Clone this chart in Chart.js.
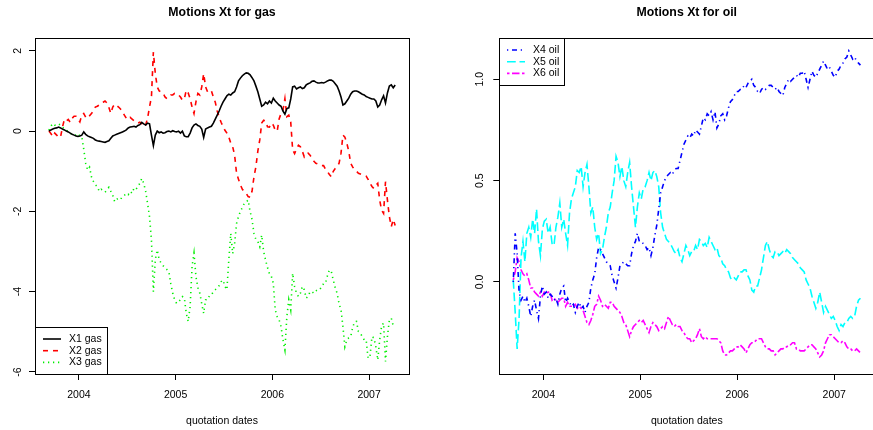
<!DOCTYPE html>
<html><head><meta charset="utf-8">
<script src="https://cdn.jsdelivr.net/npm/chart.js@4/dist/chart.umd.min.js"></script>
<style>
html,body{margin:0;padding:0;background:#fff;overflow:hidden}
#wrap{position:relative;width:873px;height:430px;overflow:hidden;background:#fff}
#c1{position:absolute;left:0;top:0}
#c2{position:absolute;left:436px;top:0}
</style></head><body>
<div id="wrap"><canvas id="c1" width="436" height="430"></canvas><canvas id="c2" width="445" height="430"></canvas></div>
<script>
// ---- data: quotation dates (decimal years) ----
const dates = [
2003.69,2003.71,2003.73,2003.75,2003.77,2003.79,2003.81,2003.83,2003.85,2003.87,2003.89,2003.91,2003.93,2003.95,2003.97,2003.99,
2004.01,2004.03,2004.05,2004.07,2004.09,2004.11,2004.13,2004.15,2004.17,2004.19,
2004.21,2004.23,2004.25,2004.27,2004.29,2004.31,2004.33,2004.35,2004.37,2004.39,
2004.41,2004.43,2004.45,2004.47,2004.49,2004.51,2004.53,2004.55,2004.57,2004.59,
2004.61,2004.63,2004.65,2004.67,2004.69,2004.71,2004.73,2004.75,2004.77,2004.79,
2004.81,2004.83,2004.85,2004.87,2004.89,2004.91,2004.93,2004.95,2004.97,2004.99,
2005.01,2005.03,2005.05,2005.07,2005.09,2005.11,2005.13,2005.15,2005.17,2005.19,
2005.21,2005.23,2005.25,2005.27,2005.29,2005.31,2005.33,2005.35,2005.37,2005.39,
2005.41,2005.43,2005.45,2005.47,2005.49,2005.51,2005.53,2005.55,2005.57,2005.59,
2005.61,2005.63,2005.65,2005.67,2005.69,2005.71,2005.73,2005.75,2005.77,2005.79,
2005.81,2005.83,2005.85,2005.87,2005.89,2005.91,2005.93,2005.95,2005.97,2005.99,
2006.01,2006.03,2006.05,2006.07,2006.09,2006.11,2006.13,2006.15,2006.17,2006.19,
2006.21,2006.23,2006.25,2006.27,2006.29,2006.31,2006.33,2006.35,2006.37,2006.39,
2006.41,2006.43,2006.45,2006.47,2006.49,2006.51,2006.53,2006.55,2006.57,2006.59,
2006.61,2006.63,2006.65,2006.67,2006.69,2006.71,2006.73,2006.75,2006.77,2006.79,
2006.81,2006.83,2006.85,2006.87,2006.89,2006.91,2006.93,2006.95,2006.97,2006.99,
2007.01,2007.03,2007.05,2007.07,2007.09,2007.11,2007.13,2007.15,2007.17,2007.19,2007.21,2007.23,2007.25,2007.27];

const x1Gas = [
0.0,0.03,0.05,0.07,0.08,0.1,0.08,0.05,0.03,0.0,-0.02,-0.05,-0.08,-0.1,-0.12,-0.13,
-0.12,-0.1,-0.02,-0.08,-0.12,-0.14,-0.16,-0.18,-0.22,-0.24,
-0.25,-0.26,-0.27,-0.28,-0.26,-0.24,-0.18,-0.12,-0.1,-0.08,
-0.06,-0.04,-0.02,0.0,0.03,0.08,0.1,0.11,0.12,0.1,
0.14,0.16,0.22,0.18,0.15,0.2,0.18,-0.1,-0.36,-0.1,
0.0,-0.04,-0.02,-0.05,-0.04,-0.01,0.0,-0.02,0.01,-0.01,
-0.02,0.0,-0.05,0.0,-0.12,-0.14,-0.14,-0.05,0.08,0.15,
0.18,0.14,0.12,0.05,-0.16,0.05,0.08,0.1,0.12,0.2,
0.3,0.4,0.5,0.62,0.72,0.8,0.88,0.92,0.9,0.95,
0.98,1.1,1.25,1.32,1.38,1.42,1.45,1.44,1.4,1.33,
1.25,1.12,0.98,0.8,0.62,0.65,0.72,0.68,0.75,0.7,
0.82,0.75,0.7,0.65,0.62,0.5,0.42,0.56,0.58,0.8,
1.1,1.12,1.05,1.08,1.1,1.06,1.08,1.15,1.18,1.2,
1.24,1.25,1.22,1.2,1.2,1.21,1.2,1.22,1.25,1.27,
1.27,1.24,1.18,1.12,1.0,0.85,0.65,0.68,0.75,0.82,
0.92,0.98,1.0,1.0,0.98,0.95,0.92,0.9,0.86,0.84,
0.82,0.8,0.8,0.75,0.6,0.65,0.78,0.88,0.7,0.95,1.12,1.15,1.08,1.15];

const x2Gas = [
0.0,-0.06,-0.14,-0.05,-0.1,-0.16,-0.15,0.1,0.29,0.25,0.29,0.22,0.32,0.37,0.37,0.3,
0.23,0.4,0.44,0.35,0.32,0.38,0.44,0.5,0.6,0.62,
0.65,0.7,0.72,0.75,0.7,0.59,0.44,0.6,0.67,0.64,
0.6,0.55,0.48,0.4,0.32,0.29,0.34,0.3,0.26,0.23,
0.2,0.22,0.19,0.11,0.15,0.32,0.6,0.85,1.97,1.43,
1.1,1.0,0.98,0.95,0.85,0.81,0.86,0.9,0.9,0.94,
0.94,0.9,0.85,0.77,0.8,1.02,0.95,0.81,0.6,0.44,
0.73,0.94,0.9,1.1,1.43,1.1,0.98,1.02,1.0,0.85,
0.72,0.5,0.35,0.22,0.12,0.02,-0.05,-0.15,-0.3,-0.39,
-0.6,-1.05,-1.2,-1.34,-1.45,-1.5,-1.55,-1.63,-1.65,-1.5,
-1.14,-0.89,-0.5,-0.22,0.2,0.27,0.25,0.11,0.1,0.2,
0.15,0.02,0.0,0.3,0.44,0.52,0.81,0.36,0.4,0.23,
-0.47,-0.56,-0.45,-0.35,-0.39,-0.5,-0.64,-0.56,-0.55,-0.6,
-0.68,-0.75,-0.8,-0.82,-0.85,-0.86,-0.86,-0.95,-1.01,-1.08,
-1.14,-1.0,-0.93,-0.89,-0.8,-0.55,-0.1,-0.15,-0.3,-0.5,
-0.8,-0.89,-0.97,-1.0,-1.05,-1.07,-1.09,-1.1,-1.12,-1.2,
-1.3,-1.38,-1.43,-1.35,-1.3,-1.72,-1.97,-2.05,-1.26,-1.72,-2.13,-2.38,-2.2,-2.35];

const x3Gas = [
0.02,0.12,0.19,0.15,0.15,0.18,0.15,0.1,0.05,0.02,0.0,-0.05,-0.08,-0.1,-0.1,-0.06,
-0.12,-0.14,-0.45,-0.8,-0.97,-0.9,-1.14,-1.25,-1.34,-1.38,
-1.5,-1.45,-1.48,-1.52,-1.47,-1.4,-1.5,-1.6,-1.76,-1.7,
-1.67,-1.7,-1.63,-1.6,-1.55,-1.58,-1.5,-1.55,-1.42,-1.45,
-1.38,-1.3,-1.18,-1.3,-1.5,-1.8,-2.13,-2.71,-4.0,-3.2,
-2.96,-3.2,-3.29,-3.35,-3.4,-3.45,-3.5,-3.8,-4.04,-4.2,
-4.29,-4.25,-4.2,-4.12,-4.15,-4.54,-4.74,-4.37,-3.37,-3.04,
-3.62,-3.9,-4.04,-4.3,-4.54,-4.2,-4.2,-4.1,-4.08,-4.0,
-3.95,-3.9,-3.85,-3.75,-3.71,-3.87,-3.95,-3.21,-2.55,-3.05,
-2.8,-2.3,-2.13,-2.0,-1.9,-1.8,-1.76,-1.72,-2.0,-2.2,
-2.55,-2.7,-2.75,-2.88,-2.59,-3.0,-3.21,-3.4,-3.55,-3.62,
-3.79,-4.45,-4.62,-4.7,-4.87,-5.2,-5.45,-4.62,-4.2,-4.45,
-3.54,-3.87,-4.04,-4.12,-4.04,-3.87,-3.95,-4.16,-4.12,-4.0,
-4.0,-4.04,-3.98,-3.95,-3.95,-3.87,-3.8,-3.79,-3.6,-3.46,
-3.5,-3.71,-3.9,-4.04,-4.3,-4.45,-4.87,-5.37,-5.2,-5.15,
-5.12,-4.9,-4.75,-4.74,-4.99,-5.03,-5.12,-5.2,-5.2,-5.66,
-5.6,-5.12,-5.15,-5.37,-5.7,-5.2,-4.85,-4.78,-5.74,-5.12,-4.7,-4.66,-4.85,-4.87];

const x4Oil = [
0.0,0.24,0.14,-0.05,-0.09,-0.07,-0.1,-0.08,-0.12,-0.17,-0.12,-0.09,-0.14,-0.18,-0.07,-0.02,
-0.06,-0.05,-0.08,-0.06,-0.07,-0.09,-0.08,-0.11,-0.06,-0.03,
-0.02,-0.1,-0.08,-0.1,-0.12,-0.11,-0.15,-0.12,-0.1,-0.13,
-0.12,-0.15,-0.12,-0.1,-0.03,0.01,0.04,0.12,0.17,0.16,
0.14,0.12,0.1,0.09,0.08,0.03,0.0,-0.03,0.02,0.08,
0.09,0.1,0.09,0.08,0.08,0.14,0.18,0.2,0.24,0.2,
0.2,0.19,0.18,0.16,0.17,0.13,0.17,0.23,0.28,0.36,
0.44,0.47,0.5,0.52,0.53,0.54,0.53,0.55,0.56,0.56,
0.6,0.64,0.68,0.7,0.72,0.71,0.73,0.72,0.75,0.74,
0.73,0.77,0.81,0.8,0.83,0.82,0.84,0.8,0.84,0.76,
0.78,0.82,0.83,0.8,0.82,0.86,0.89,0.9,0.92,0.94,
0.94,0.95,0.95,0.97,0.96,0.98,0.99,1.0,0.97,0.96,
0.94,0.93,0.95,0.96,0.95,0.96,0.97,0.97,0.96,0.95,
0.96,0.94,0.93,0.92,0.96,0.98,1.0,0.99,1.0,1.01,
1.02,1.01,1.03,1.03,1.04,1.0,0.96,1.0,1.04,1.02,
1.01,1.03,1.05,1.07,1.09,1.07,1.05,1.06,1.04,1.02,
1.01,1.04,1.05,1.07,1.08,1.1,1.11,1.14,1.12,1.1,1.11,1.09,1.08,1.07];

const x5Oil = [
0.01,-0.15,-0.33,-0.18,0.12,0.2,0.1,0.24,0.27,0.22,0.31,0.24,0.36,0.2,0.13,0.26,
0.3,0.31,0.24,0.27,0.19,0.18,0.27,0.32,0.39,0.27,
0.31,0.24,0.18,0.34,0.41,0.44,0.47,0.55,0.54,0.57,
0.47,0.54,0.58,0.47,0.34,0.37,0.27,0.21,0.24,0.14,
0.16,0.22,0.27,0.34,0.37,0.44,0.5,0.62,0.59,0.52,
0.57,0.5,0.47,0.54,0.59,0.47,0.37,0.27,0.37,0.44,
0.41,0.46,0.47,0.5,0.54,0.5,0.54,0.55,0.52,0.47,
0.34,0.27,0.24,0.21,0.2,0.19,0.17,0.15,0.14,0.16,
0.12,0.1,0.14,0.18,0.16,0.13,0.15,0.15,0.18,0.16,
0.21,0.2,0.18,0.19,0.17,0.22,0.2,0.18,0.16,0.17,
0.13,0.12,0.09,0.08,0.06,0.05,0.02,0.01,0.02,0.01,
0.03,0.05,0.05,0.06,0.06,0.03,0.01,-0.04,-0.05,-0.02,
-0.02,0.02,0.06,0.12,0.18,0.2,0.16,0.13,0.12,0.15,
0.15,0.13,0.14,0.15,0.14,0.16,0.15,0.14,0.12,0.11,
0.1,0.09,0.07,0.06,0.05,0.01,-0.01,-0.03,-0.07,-0.1,
-0.13,-0.1,-0.05,-0.1,-0.15,-0.12,-0.14,-0.16,-0.18,-0.17,
-0.19,-0.22,-0.24,-0.21,-0.22,-0.2,-0.2,-0.18,-0.17,-0.18,-0.17,-0.12,-0.09,-0.08];

const x6Oil = [
0.01,0.05,0.12,0.1,0.06,0.04,0.03,0.04,0.01,-0.03,-0.03,-0.05,-0.06,-0.07,-0.05,-0.07,
-0.05,-0.06,-0.05,-0.05,-0.09,-0.08,-0.09,-0.1,-0.09,-0.08,
-0.08,-0.12,-0.1,-0.12,-0.12,-0.12,-0.11,-0.13,-0.12,-0.13,
-0.14,-0.17,-0.2,-0.21,-0.19,-0.16,-0.12,-0.11,-0.07,-0.09,
-0.12,-0.11,-0.12,-0.13,-0.1,-0.1,-0.12,-0.13,-0.14,-0.15,
-0.17,-0.2,-0.21,-0.24,-0.27,-0.24,-0.22,-0.21,-0.2,-0.19,
-0.2,-0.19,-0.21,-0.23,-0.25,-0.22,-0.2,-0.21,-0.22,-0.24,
-0.23,-0.22,-0.23,-0.2,-0.17,-0.19,-0.21,-0.22,-0.21,-0.22,
-0.22,-0.24,-0.25,-0.27,-0.28,-0.28,-0.3,-0.29,-0.28,-0.26,
-0.23,-0.27,-0.28,-0.27,-0.28,-0.28,-0.28,-0.28,-0.28,-0.28,
-0.29,-0.3,-0.34,-0.36,-0.36,-0.35,-0.34,-0.34,-0.33,-0.32,
-0.32,-0.31,-0.32,-0.33,-0.35,-0.33,-0.31,-0.3,-0.3,-0.29,
-0.28,-0.28,-0.28,-0.3,-0.32,-0.33,-0.33,-0.34,-0.34,-0.36,
-0.35,-0.34,-0.33,-0.33,-0.32,-0.32,-0.31,-0.31,-0.3,-0.3,
-0.33,-0.33,-0.34,-0.34,-0.34,-0.33,-0.32,-0.31,-0.31,-0.32,
-0.33,-0.35,-0.37,-0.36,-0.34,-0.3,-0.28,-0.26,-0.26,-0.27,
-0.28,-0.29,-0.3,-0.3,-0.29,-0.3,-0.32,-0.33,-0.33,-0.34,-0.34,-0.33,-0.34,-0.35];

const xTicks = [2004, 2005, 2006, 2007];
const yTicksGas = [-6, -4, -2, 0, 2];
const yTicksOil = [0.0, 0.5, 1.0];
const gasLabels = ['X1 gas', 'X2 gas', 'X3 gas'];
const oilLabels = ['X4 oil', 'X5 oil', 'X6 oil'];

// ---- rendering ----
const FONT = '"Liberation Sans", Arial, Helvetica, sans-serif';
Chart.defaults.font.family = FONT;
Chart.defaults.color = '#000';

const rPlot = {
  id: 'rplot',
  afterDraw(chart, args, opts) {
    const {ctx, chartArea: a} = chart;
    ctx.save();
    ctx.strokeStyle = '#000'; ctx.lineWidth = 1;
    ctx.strokeRect(Math.round(a.left) + 0.5, Math.round(a.top) + 0.5, Math.round(a.right - a.left), Math.round(a.bottom - a.top));
    ctx.font = '10.5px ' + FONT;
    const ds = chart.data.datasets;
    const tw = Math.max(...ds.map(d => ctx.measureText(d.label).width));
    const w = Math.round(34 + tw + 5), h = 47;
    const x0 = Math.round(a.left), y0 = opts.corner === 'bottomleft' ? Math.round(a.bottom) - h : Math.round(a.top);
    ctx.fillStyle = '#fff'; ctx.fillRect(x0, y0, w, h);
    ctx.strokeRect(x0 + 0.5, y0 + 0.5, w, h);
    ds.forEach((d, i) => {
      const y = y0 + 12 + i * 11.7;
      ctx.strokeStyle = d.borderColor; ctx.lineWidth = d.borderWidth;
      ctx.setLineDash(d.borderDash || []);
      ctx.beginPath(); ctx.moveTo(x0 + 8, y); ctx.lineTo(x0 + 26, y); ctx.stroke();
      ctx.setLineDash([]);
      ctx.fillStyle = '#000'; ctx.textBaseline = 'middle'; ctx.textAlign = 'left';
      ctx.fillText(d.label, x0 + 34, y);
    });
    ctx.restore();
  }
};

function mk(id, title, series, labels, colors, dashes, yMin, yMax, yTicks, yFmt, axisW, padR, corner) {
  const datasets = series.map((s, k) => ({
    label: labels[k],
    data: dates.map((d, i) => ({x: d, y: s[i]})),
    borderColor: colors[k], borderWidth: 1.6, borderDash: dashes[k],
    pointRadius: 0, tension: 0, fill: false, borderCapStyle: 'butt'
  }));
  const grid = {display: true, drawOnChartArea: false, drawTicks: true, tickLength: 6, color: '#000', lineWidth: 1};
  return new Chart(document.getElementById(id), {
    type: 'line',
    data: {datasets},
    plugins: [rPlot],
    options: {
      responsive: false, animation: false, devicePixelRatio: 1,
      layout: {padding: {left: 0, right: padR, top: 0, bottom: 0}},
      plugins: {
        legend: {display: false}, tooltip: {enabled: false},
        title: {display: true, text: title, fullSize: false, color: '#000',
                font: {size: 12.3, weight: 'bold'}, padding: {top: 5.6, bottom: 17.6}},
        rplot: {corner}
      },
      scales: {
        x: {type: 'linear', min: 2003.546, max: 2007.413,
            afterBuildTicks: s => { s.ticks = xTicks.map(v => ({value: v})); },
            afterFit: s => { s.height = 56; },
            ticks: {font: {size: 10.5}, color: '#000', padding: 9, maxRotation: 0, autoSkip: false, callback: v => String(v)},
            grid, border: {display: false},
            title: {display: true, text: 'quotation dates', color: '#000', font: {size: 10.5}, padding: {top: 0, bottom: 2.8}}},
        y: {type: 'linear', min: yMin, max: yMax,
            afterBuildTicks: s => { s.ticks = yTicks.map(v => ({value: v})); },
            afterFit: s => { s.width = axisW; },
            ticks: {font: {size: 10.5}, color: '#000', minRotation: 90, maxRotation: 90, crossAlign: 'center', padding: 6, autoSkip: false, callback: yFmt},
            grid, border: {display: false}}
      }
    }
  });
}

mk('c1', 'Motions Xt for gas', [x1Gas, x2Gas, x3Gas], gasLabels,
   ['#000000', '#ff0000', '#00ee00'], [[], [5, 5], [1.25, 3.75]],
   -6.05, 2.32, yTicksGas, v => String(v), 35, 27, 'bottomleft');
mk('c2', 'Motions Xt for oil', [x4Oil, x5Oil, x6Oil], oilLabels,
   ['#0000ff', '#00ffff', '#ff00ff'], [[1.25, 3.75, 5, 3.75], [8.75, 3.75], [2.5, 2.5, 7.5, 2.5]],
   -0.454, 1.204, yTicksOil, v => v.toFixed(1), 63.3, 6.7, 'topleft');
</script>
</body></html>
